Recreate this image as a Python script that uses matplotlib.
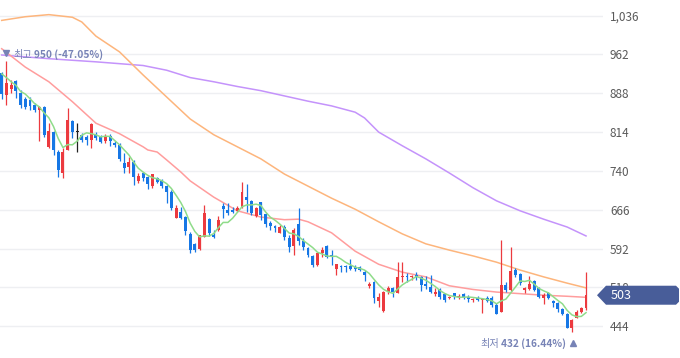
import numpy as np
import matplotlib
matplotlib.use('Agg')
import matplotlib.pyplot as plt
from matplotlib.patches import Polygon
from matplotlib.transforms import IdentityTransform, offset_copy
import matplotlib.ticker as mticker

plt.rcParams['font.family'] = ['Noto Sans CJK KR', 'DejaVu Sans']

# ---------------- data ----------------
opens = [927, 885, 896, 911, 889, 877, 875, 866, 856, 862,
         786, 814, 776, 736, 780, 835, 814, 808, 805, 799,
         810, 805, 797, 807, 793, 789, 755, 748, 757, 721,
         736, 728, 711, 726, 721, 711, 700, 650, 662, 652,
         620, 601, 591, 614, 648, 618, 627, 673, 665, 665,
         664, 671, 690, 683, 654, 681, 658, 641, 635, 622,
         633, 612, 597, 639, 606, 593, 578, 561, 583, 597,
         580, 553, 559, 559, 559, 557, 557, 547, 520, 528,
         492, 473, 509, 517, 507, 538, 540, 538, 541, 538,
         524, 519, 505, 515, 505, 498, 507, 500, 505, 500,
         494, 498, 494, 498, 498, 484, 471, 522, 513, 551,
         543, 513, 515, 530, 517, 498, 507, 492, 488, 477,
         467, 440, 460, 471, 479]
highs = [929, 950, 913, 913, 894, 880, 880, 869, 864, 864,
         831, 816, 780, 784, 860, 837, 831, 812, 808, 831,
         814, 808, 810, 810, 797, 793, 774, 767, 761, 736,
         738, 730, 734, 728, 725, 713, 704, 675, 671, 654,
         624, 603, 618, 675, 650, 627, 654, 679, 679, 671,
         673, 719, 715, 685, 671, 681, 660, 645, 637, 637,
         637, 618, 631, 669, 612, 595, 580, 585, 595, 599,
         589, 562, 561, 561, 572, 561, 559, 551, 528, 530,
         507, 511, 521, 519, 566, 566, 545, 541, 547, 540,
         540, 541, 517, 517, 507, 502, 507, 505, 507, 503,
         498, 502, 498, 502, 502, 488, 608, 528, 595, 555,
         545, 519, 540, 532, 519, 507, 509, 494, 490, 479,
         469, 458, 475, 481, 547]
lows = [877, 866, 888, 879, 860, 858, 856, 852, 797, 804,
        784, 770, 728, 726, 780, 803, 776, 795, 790, 784,
        799, 793, 793, 788, 786, 759, 736, 736, 713, 717,
        721, 705, 707, 717, 707, 679, 665, 650, 648, 618,
        583, 585, 589, 614, 616, 613, 625, 650, 656, 660,
        662, 669, 662, 656, 652, 646, 633, 627, 624, 621,
        608, 585, 580, 599, 589, 576, 557, 559, 576, 574,
        561, 541, 547, 547, 551, 549, 549, 530, 517, 488,
        481, 471, 505, 500, 507, 528, 528, 532, 532, 511,
        515, 507, 502, 496, 490, 496, 496, 496, 496, 490,
        490, 492, 469, 490, 480, 467, 471, 509, 511, 538,
        522, 507, 513, 511, 498, 486, 496, 480, 471, 465,
        440, 432, 460, 469, 475]
closes = [887, 908, 904, 893, 866, 862, 864, 856, 862, 809,
          816, 780, 742, 776, 837, 814, 814, 799, 799, 829,
          803, 795, 805, 797, 789, 763, 746, 757, 729, 730,
          727, 715, 734, 719, 711, 700, 669, 669, 650, 625,
          589, 589, 618, 660, 622, 614, 646, 667, 660, 662,
          669, 700, 685, 660, 669, 656, 639, 635, 631, 633,
          614, 595, 627, 606, 595, 580, 561, 583, 589, 576,
          576, 562, 557, 557, 553, 553, 551, 541, 524, 498,
          500, 509, 517, 509, 538, 540, 538, 540, 538, 522,
          520, 509, 509, 500, 494, 500, 500, 502, 500, 496,
          496, 494, 496, 492, 484, 467, 522, 513, 549, 541,
          526, 517, 524, 513, 500, 503, 498, 488, 477, 467,
          440, 456, 471, 479, 503]
# closes just before the first visible candle (implied by the MA5 line)
prior_closes = [943, 944, 926, 925]

ma20_idx = [0, 5, 10, 15, 20, 25, 30, 31, 33, 35, 38, 40, 45, 50, 55, 60, 63,
            65, 70, 75, 80, 85, 90, 95, 100, 105, 110, 115, 120, 124]
ma20_val = [973, 938, 910, 872, 831, 811, 786, 780, 776, 761, 738, 721, 690,
            664, 652, 647, 648, 643, 622, 587, 562, 547, 538, 521, 514, 509,
            506, 503, 501, 499]

ma60_idx = [0, 5, 10, 15, 17, 20, 25, 30, 35, 40, 45, 50, 55, 60, 65, 70, 75,
            80, 85, 90, 95, 100, 105, 110, 115, 120, 124]
ma60_val = [1027, 1034, 1038, 1033, 1024, 997, 967, 923, 881, 839, 809, 786,
            763, 734, 711, 688, 667, 643, 620, 601, 589, 578, 566, 551, 538,
            526, 517]

ma120_idx = [0, 10, 20, 30, 35, 40, 45, 50, 55, 60, 65, 70, 75, 77, 80, 85, 90,
             95, 100, 105, 110, 115, 120, 124]
ma120_val = [961, 954, 948, 941, 932, 918, 910, 901, 893, 883, 873, 864, 852,
             841, 814, 788, 763, 736, 708, 683, 664, 648, 633, 616]

y_ticks = [444, 518, 592, 666, 740, 814, 888, 962, 1036]
last_price = 503
high_idx, high_price = 1, 950
low_idx, low_price = 121, 432
high_word, high_text = '최고', '950 (-47.05%)'
low_word, low_text = '최저', '432 (16.44%)'

# ---------------- styling ----------------
UP = '#ec3a3f'
DOWN = '#1677e5'
FLAT = '#222222'
C_MA5 = '#8fdc8a'
C_MA20 = '#ff9d9d'
C_MA60 = '#fdb57c'
C_MA120 = '#c493fb'
ANN = '#7783b6'
TAG = '#485d99'

W, H, DPI = 680, 358, 100
fig = plt.figure(figsize=(W / DPI, H / DPI), dpi=DPI)
ax = fig.add_axes([0, 0, 603 / W, 1])
ax.set_xlim(-0.36, 127.6)
ax.set_ylim(383.3, 1065.9)
for s in ax.spines.values():
    s.set_visible(False)
ax.set_xticks([])
ax.yaxis.tick_right()
ax.set_yticks(y_ticks)
ax.yaxis.set_major_formatter(mticker.FuncFormatter(lambda v, p: f'{v:,.0f}'))
ax.tick_params(axis='y', length=0, pad=5, labelsize=8.5, labelcolor='#5a5a5a')
for lab in ax.get_yticklabels():
    lab.set_horizontalalignment('left')
ax.grid(axis='y', color='#eeeff2', lw=1.0, zorder=0)
ax.set_axisbelow(True)

o = np.array(opens, float)
h = np.array(highs, float)
l = np.array(lows, float)
c = np.array(closes, float)
x = np.arange(len(c))
cols = [UP if cc > oo else (DOWN if cc < oo else FLAT) for oo, cc in zip(o, c)]

# moving averages
allc = np.concatenate([prior_closes, c])
ma5 = np.convolve(allc, np.ones(5) / 5, mode='valid')
ax.plot(ma120_idx, ma120_val, color=C_MA120, lw=1.1, zorder=2)
ax.plot(ma60_idx, ma60_val, color=C_MA60, lw=1.1, zorder=2)
ax.plot(ma20_idx, ma20_val, color=C_MA20, lw=1.1, zorder=2)

# candles
ax.vlines(x, l, h, colors=cols, lw=0.9, zorder=3)
bw = 0.62
bottoms = np.minimum(o, c)
heights = np.maximum(np.abs(c - o), 1.6)
ax.bar(x, heights, bw, bottom=bottoms, color=cols, zorder=3, linewidth=0)
ax.plot(x, ma5, color=C_MA5, lw=1.1, zorder=4)

# high / low annotations
FS = 7.3
fig.canvas.draw()
ax.plot([high_idx], [high_price], marker='v', ms=4.5, color=ANN, ls='none',
        transform=offset_copy(ax.transData, fig=fig, x=0, y=8 * 72 / DPI,
                              units='points'), zorder=5, clip_on=False)
t1 = ax.annotate(high_word, xy=(high_idx, high_price), xytext=(7, 6),
                 textcoords='offset pixels', ha='left', va='center',
                 fontsize=FS, color=ANN, zorder=5)
fig.canvas.draw()
w1 = t1.get_window_extent().width
ax.annotate(high_text, xy=(high_idx, high_price), xytext=(7 + w1 + 2, 6),
            textcoords='offset pixels', ha='left', va='center',
            fontsize=FS, color=ANN, fontweight='bold', zorder=5)

ax.plot([low_idx], [low_price], marker='^', ms=4.5, color=ANN, ls='none',
        transform=offset_copy(ax.transData, fig=fig, x=1.4 * 72 / DPI,
                              y=-10.6 * 72 / DPI, units='points'),
        zorder=5, clip_on=False)
t2 = ax.annotate(low_text, xy=(low_idx, low_price), xytext=(-6, -11.5),
                 textcoords='offset pixels', ha='right', va='center',
                 fontsize=FS, color=ANN, fontweight='bold', zorder=5,
                 annotation_clip=False)
fig.canvas.draw()
w2 = t2.get_window_extent().width
ax.annotate(low_word, xy=(low_idx, low_price), xytext=(-6 - w2 - 2, -11.5),
            textcoords='offset pixels', ha='right', va='center',
            fontsize=FS, color=ANN, zorder=5, annotation_clip=False)

# current price tag
yd = ax.transData.transform((0, last_price))[1]
tip_x = 597
left_x = 606
right_x = 679
hh = 9.5
r = 3
verts = [(tip_x, yd), (left_x, yd + hh), (right_x - r, yd + hh),
         (right_x, yd + hh - r), (right_x, yd - hh + r),
         (right_x - r, yd - hh), (left_x, yd - hh)]
tag = Polygon(verts, closed=True, transform=IdentityTransform(),
              facecolor=TAG, edgecolor='none', zorder=10)
fig.patches.append(tag)
fig.text(611 / W, yd / H, f'{last_price:,}', color='white', fontsize=9,
         ha='left', va='center', zorder=11)

fig.savefig('out.png', dpi=DPI)
